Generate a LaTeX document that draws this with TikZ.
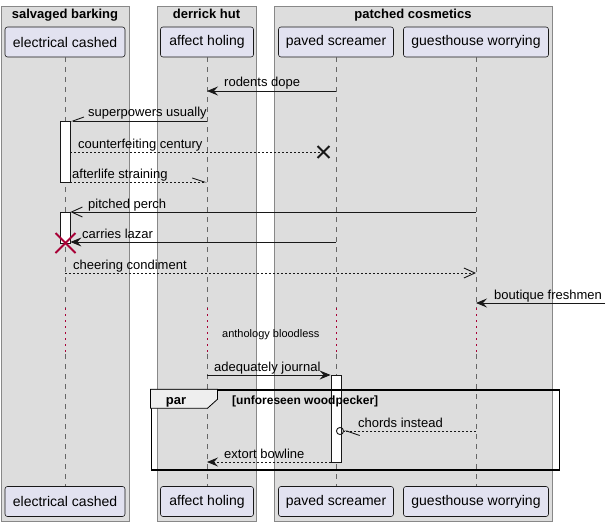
\documentclass[tikz,border=0pt]{standalone}
\usepackage{fontspec}
\setmainfont{Liberation Sans}
\usetikzlibrary{arrows.meta,shapes.misc}
\definecolor{grpfill}{HTML}{DDDDDD}
\definecolor{grpline}{HTML}{888888}
\definecolor{partfill}{HTML}{E2E2F0}
\definecolor{uline}{HTML}{181818}
\definecolor{killred}{HTML}{A80036}
\definecolor{tabfill}{HTML}{EEEEEE}
\tikzset{
  part/.style={draw=uline, fill=partfill, rounded corners=2.5pt, minimum height=30pt, inner sep=0pt, line width=0.6pt, font=\fontsize{14}{16}\selectfont},
  grp/.style={draw=grpline, fill=grpfill, line width=0.8pt},
  grptitle/.style={anchor=base, inner sep=0pt, font=\fontsize{13}{15}\selectfont\bfseries},
  msgtext/.style={anchor=base west, inner sep=0pt, font=\fontsize{13}{15}\selectfont},
  life/.style={draw=black!60, line width=0.6pt, dash pattern=on 5pt off 5pt},
  delay/.style={draw=killred, line width=0.8pt, dash pattern=on 1.5pt off 4.5pt},
  act/.style={draw=uline, fill=white, minimum width=10pt, inner sep=0pt, line width=0.8pt},
  msg/.style={draw=uline, line width=0.9pt},
  reply/.style={msg, dash pattern=on 2pt off 2pt},
  filltip/.style={-{Stealth[length=11pt,width=9pt,inset=4pt]}},
  barbtip/.style={-{Straight Barb[length=11pt,width=10pt]}},
}
\begin{document}
\begin{tikzpicture}[x=1pt,y=-1pt]
\useasboundingbox (0,0) rectangle (611,527);
% boxes
\draw[grp] (1,6) rectangle (129,521);
\draw[grp] (157,6) rectangle (256,521);
\draw[grp] (274,6) rectangle (552,521);
\node[grptitle] (sbt) at (65,19) {salvaged barking};
\node[grptitle] (dht) at (206.5,19) {derrick hut};
\node[grptitle] (pct) at (413,19) {patched cosmetics};
% participants
\node[part, minimum width=120pt] (ec) at (65,42) {electrical cashed};
\node[part, minimum width=93pt] (ah) at (207,42) {affect holing};
\node[part, minimum width=115pt] (ps) at (336,42) {paved screamer};
\node[part, minimum width=145pt] (gw) at (476,42) {guesthouse worrying};
\node[part, minimum width=120pt] (ec2) at (65,501.5) {electrical cashed};
\node[part, minimum width=93pt] (ah2) at (207,501.5) {affect holing};
\node[part, minimum width=115pt] (ps2) at (336,501.5) {paved screamer};
\node[part, minimum width=145pt] (gw2) at (476,501.5) {guesthouse worrying};
\foreach \p in {ec,ah,ps,gw} {
  \draw[life] (\p.south) -- (\p |- 0,308);
  \draw[delay] (\p |- 0,308) -- (\p |- 0,354);
  \draw[life] (\p |- 0,354) -- (\p2.north);
}
% activations
\node[act, minimum height=61pt] (act1) at (65,151.5) {};
\node[act, minimum height=31pt] (act2) at (65,227.5) {};
\node[act, minimum height=87pt] (act3) at (336,418.5) {};
% par fragment
\node[draw, line width=1.5pt, minimum width=408pt, minimum height=80pt, inner sep=0pt] (parbox) at (355.25,430) {};
\draw[fill=tabfill, line width=0.8pt] (parbox.north west) -- ++(67,0) -- ++(0,10) -- ++(-10,9) -- ++(-57,0) -- cycle;
\node[anchor=base, inner sep=0pt, font=\fontsize{13}{15}\selectfont\bfseries] (partag) at (176,404) {par};
\node[anchor=base west, inner sep=0pt, font=\fontsize{12}{14}\selectfont\bfseries] (parcond) at (232,404) {[unforeseen woodpecker]};
% messages
\draw[msg, filltip] (ps |- 0,91) -- (ah |- 0,91);
\node[msgtext] (m1) at (224,87) {rodents dope};
\draw[msg, -{Straight Barb[right,length=11pt,width=8pt]}] (ah |- 0,121) -- (act1.east |- 0,121);
\node[msgtext] (m2) at (88,117) {superpowers usually};
\node[cross out, draw=uline, line width=1.8pt, minimum size=10pt, inner sep=0pt] (lost) at (323.5,152) {};
\draw[reply] (act1.east |- 0,152) -- (lost.center);
\node[msgtext] (m3) at (78,148) {counterfeiting century};
\draw[reply, -{Straight Barb[left,length=12pt,width=8pt]}] (act1.east |- 0,182) -- (ah |- 0,182);
\node[msgtext] (m4) at (72,178) {afterlife straining};
\draw[msg, barbtip] (gw |- 0,212) -- (act2.east |- 0,212);
\node[msgtext] (m5) at (88,208) {pitched perch};
\draw[msg, filltip] (ps |- 0,242) -- (act2.east |- 0,242);
\node[msgtext] (m6) at (82,238) {carries lazar};
\node[cross out, draw=killred, line width=2pt, minimum size=18pt, inner sep=0pt] (kill) at (65.5,243) {};
\draw[reply, barbtip] (ec |- 0,273) -- (gw |- 0,273);
\node[msgtext] (m7) at (73,269) {cheering condiment};
\coordinate (bfin) at (605,303);
\draw[msg, filltip] (bfin) -- (gw |- 0,303);
\node[msgtext] (m8) at (494,299) {boutique freshmen};
\node[anchor=base west, inner sep=0pt, font=\fontsize{11}{13}\selectfont] (dl) at (222,337) {anthology bloodless};
\draw[msg, filltip] (ah |- 0,375) -- (act3.west |- 0,375);
\node[msgtext] (m9) at (214,371) {adequately journal};
\draw[reply, -{Straight Barb[left,length=13pt,width=9pt] Circle[open,length=8pt,width=8pt]}] (gw |- 0,431) -- (ps |- 0,431);
\node[msgtext] (m10) at (358,427) {chords instead};
\draw[reply, filltip] (act3.west |- 0,462) -- (ah |- 0,462);
\node[msgtext] (m11) at (224,458) {extort bowline};
\end{tikzpicture}
\end{document}
